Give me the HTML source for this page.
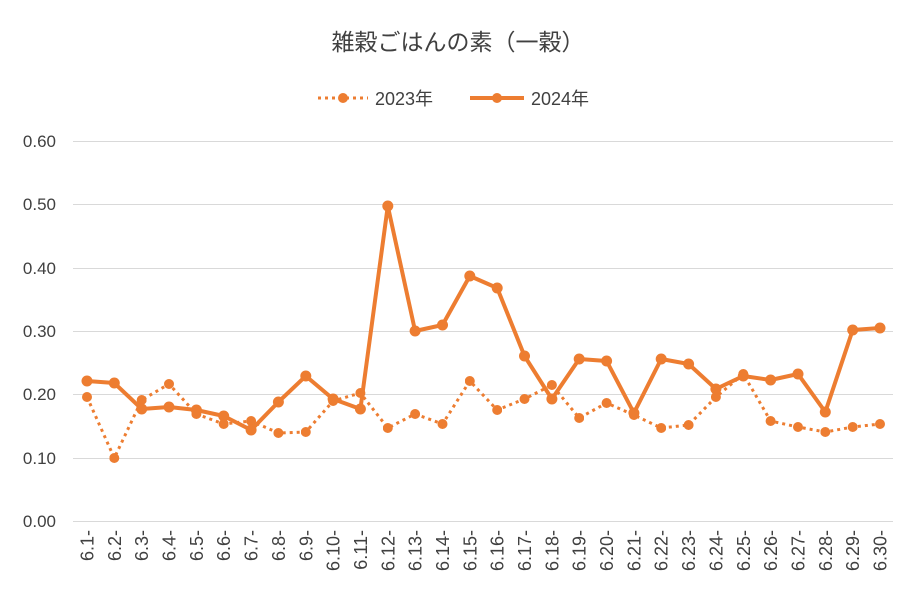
<!DOCTYPE html>
<html><head><meta charset="utf-8"><style>body{margin:0;background:#fff}svg{display:block}text{font-family:"Liberation Sans","Noto Sans CJK JP",sans-serif;fill:#404040}</style></head><body>
<svg width="917" height="598" xmlns="http://www.w3.org/2000/svg">
<defs>
<marker id="m" viewBox="0 0 10 10" refX="5" refY="5" markerWidth="10" markerHeight="10" markerUnits="userSpaceOnUse"><circle cx="5" cy="5" r="5" fill="#ED7D31"/></marker>
<marker id="m2" viewBox="0 0 12 12" refX="6" refY="6" markerWidth="12" markerHeight="12" markerUnits="userSpaceOnUse"><circle cx="6" cy="6" r="5.5" fill="#ED7D31"/></marker>
</defs>
<text x="458" y="50" font-size="23" text-anchor="middle" fill="#333">雑穀ごはんの素（一穀）</text>
<line x1="318" y1="98" x2="368" y2="98" stroke="#ED7D31" stroke-width="3" stroke-dasharray="3,4"/>
<circle cx="343" cy="98" r="5" fill="#ED7D31"/>
<text x="375" y="105" font-size="18">2023年</text>
<line x1="470" y1="98" x2="524" y2="98" stroke="#ED7D31" stroke-width="4"/>
<circle cx="497" cy="98" r="5" fill="#ED7D31"/>
<text x="531" y="105" font-size="18">2024年</text>
<g stroke="#d9d9d9" stroke-width="1">
<line x1="73" y1="141.5" x2="893" y2="141.5"/><line x1="73" y1="204.5" x2="893" y2="204.5"/><line x1="73" y1="268.5" x2="893" y2="268.5"/><line x1="73" y1="331.5" x2="893" y2="331.5"/><line x1="73" y1="394.5" x2="893" y2="394.5"/><line x1="73" y1="458.5" x2="893" y2="458.5"/><line x1="73" y1="521.5" x2="893" y2="521.5"/>
</g>
<g font-size="17" text-anchor="end">
<text x="56" y="147">0.60</text><text x="56" y="210">0.50</text><text x="56" y="274">0.40</text><text x="56" y="337">0.30</text><text x="56" y="400">0.20</text><text x="56" y="464">0.10</text><text x="56" y="527">0.00</text>
</g>
<polyline fill="none" stroke="#ED7D31" stroke-width="3" stroke-dasharray="3,4" marker-start="url(#m)" marker-mid="url(#m)" marker-end="url(#m)" points="87,397 114.3,458 141.7,400 169,384 196.4,414 223.7,424 251.1,421 278.4,433 305.8,432 333.1,401 360.4,393 387.8,428 415.1,414 442.5,424 469.8,381 497.2,410 524.5,399 551.9,385 579.2,418 606.6,403 633.9,415 661.2,428 688.6,425 715.9,397 743.3,374 770.6,421 798,427 825.3,432 852.7,427 880,424"/>
<polyline fill="none" stroke="#ED7D31" stroke-width="4" stroke-linejoin="round" marker-start="url(#m2)" marker-mid="url(#m2)" marker-end="url(#m2)" points="87,381 114.3,383 141.7,409 169,407 196.4,410 223.7,416 251.1,430 278.4,402 305.8,376 333.1,399 360.4,409 387.8,206 415.1,331 442.5,325 469.8,276 497.2,288 524.5,356 551.9,399 579.2,359 606.6,361 633.9,413 661.2,359 688.6,364 715.9,389 743.3,376 770.6,380 798,374 825.3,412 852.7,330 880,328"/>
<g font-size="18" text-anchor="end">
<text transform="translate(93.5,530) rotate(-90)">6.1-</text>
<text transform="translate(120.8,530) rotate(-90)">6.2-</text>
<text transform="translate(148.2,530) rotate(-90)">6.3-</text>
<text transform="translate(175.5,530) rotate(-90)">6.4-</text>
<text transform="translate(202.9,530) rotate(-90)">6.5-</text>
<text transform="translate(230.2,530) rotate(-90)">6.6-</text>
<text transform="translate(257.6,530) rotate(-90)">6.7-</text>
<text transform="translate(284.9,530) rotate(-90)">6.8-</text>
<text transform="translate(312.3,530) rotate(-90)">6.9-</text>
<text transform="translate(339.6,530) rotate(-90)">6.10-</text>
<text transform="translate(366.9,530) rotate(-90)">6.11-</text>
<text transform="translate(394.3,530) rotate(-90)">6.12-</text>
<text transform="translate(421.6,530) rotate(-90)">6.13-</text>
<text transform="translate(449,530) rotate(-90)">6.14-</text>
<text transform="translate(476.3,530) rotate(-90)">6.15-</text>
<text transform="translate(503.7,530) rotate(-90)">6.16-</text>
<text transform="translate(531,530) rotate(-90)">6.17-</text>
<text transform="translate(558.4,530) rotate(-90)">6.18-</text>
<text transform="translate(585.7,530) rotate(-90)">6.19-</text>
<text transform="translate(613.1,530) rotate(-90)">6.20-</text>
<text transform="translate(640.4,530) rotate(-90)">6.21-</text>
<text transform="translate(667.7,530) rotate(-90)">6.22-</text>
<text transform="translate(695.1,530) rotate(-90)">6.23-</text>
<text transform="translate(722.4,530) rotate(-90)">6.24-</text>
<text transform="translate(749.8,530) rotate(-90)">6.25-</text>
<text transform="translate(777.1,530) rotate(-90)">6.26-</text>
<text transform="translate(804.5,530) rotate(-90)">6.27-</text>
<text transform="translate(831.8,530) rotate(-90)">6.28-</text>
<text transform="translate(859.2,530) rotate(-90)">6.29-</text>
<text transform="translate(886.5,530) rotate(-90)">6.30-</text>
</g>
</svg>
</body></html>
